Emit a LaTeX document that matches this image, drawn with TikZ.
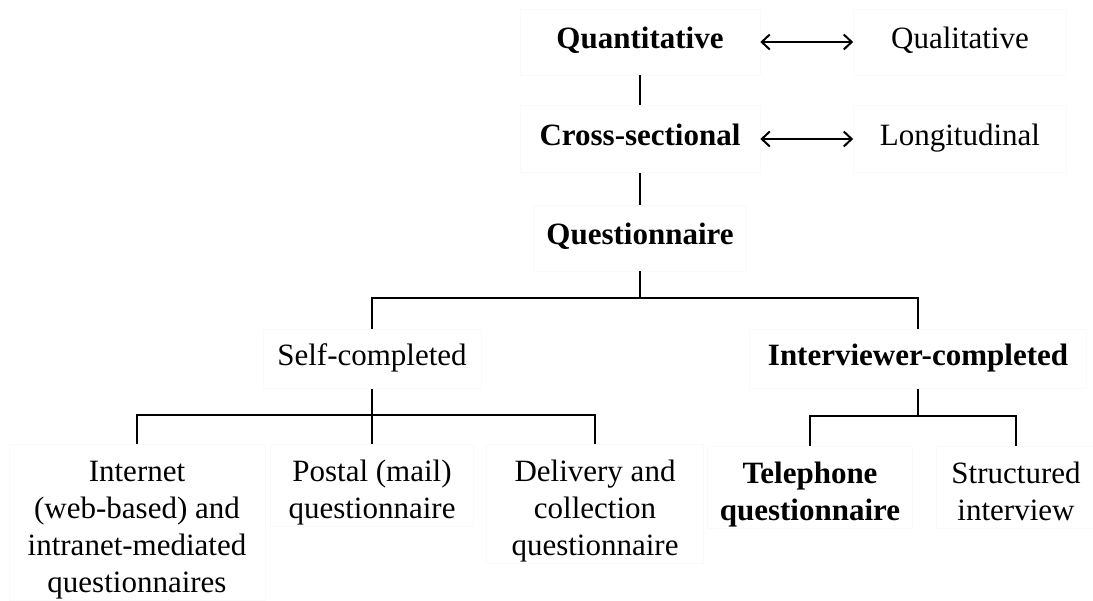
\documentclass[tikz,border=0pt]{standalone}
\usepackage{fontspec}
\setmainfont{Liberation Serif}
\usetikzlibrary{arrows.meta}

\begin{document}
\begin{tikzpicture}[x=1pt,y=1pt,line width=1.5pt,node distance=320pt,
  >={Straight Barb[length=8pt,width=15pt]}]
\tikzstyle{box}=[draw=black!2,line width=0.6pt,align=center,inner sep=2pt,
  text height=21pt,text depth=7pt,font=\fontsize{31}{37}\selectfont]
\tikzstyle{leaf}=[box,anchor=north,inner ysep=8pt,text depth=0pt]
\tikzstyle{key}=[font=\fontsize{31}{37}\selectfont\bfseries]
\useasboundingbox (0,0) rectangle (1093,-601);
% top two rows
\node[box,key,minimum width=240pt,minimum height=66pt] (Quan) at (640,-42) {Quantitative};
\node[box,minimum width=213pt,minimum height=66pt][right of=Quan] (Qual) {Qualitative};
\node[box,key,minimum width=240pt,minimum height=67pt][below of=Quan,node distance=97pt] (Cross) {Cross-sectional};
\node[box,minimum width=213pt,minimum height=67pt][right of=Cross] (Long) {Longitudinal};
\node[box,key,minimum width=213pt,minimum height=66pt][below of=Cross,node distance=99pt] (Quest) {Questionnaire};
% second level
\node[box,minimum width=218pt,minimum height=59pt] (Self) at (372,-359) {Self-completed};
\node[box,key,minimum width=337pt,minimum height=59pt] (Inter) at (918,-359) {Interviewer-completed};
% leaves
\node[leaf,minimum width=256pt,text height=140pt] (Web) at (137,-444) {Internet\\(web-based) and\\intranet-mediated\\questionnaires};
\node[leaf,minimum width=203pt,text height=66pt] (Post) at (372,-444) {Postal (mail)\\questionnaire};
\node[leaf,minimum width=217pt,text height=103pt] (Deliv) at (595,-444) {Delivery and\\collection\\questionnaire};
\node[leaf,key,minimum width=205pt,text height=66pt] (Tel) at (810,-446) {Telephone\\questionnaire};
\node[leaf,minimum width=160pt,text height=66pt] (Struct) at (1016,-446) {Structured\\interview};
\coordinate (ForkQ) at (640,-298);
\coordinate (ForkS) at (372,-415);
\coordinate (ForkI) at (918,-416);

\draw[<->,line width=2pt] (Quan) -- (Qual);
\draw[<->,line width=2pt] (Cross) -- (Long);
\draw (Quan) -- (Cross);
\draw (Cross) -- (Quest);
\draw (Quest) -- (ForkQ) -| (Self.north);
\draw (ForkQ) -| (Inter.north);
\draw (Self) -- (ForkS) -| (Web.north);
\draw (ForkS) -- (Post.north);
\draw (ForkS) -| (Deliv.north);
\draw (Inter) -- (ForkI) -| (Tel.north);
\draw (ForkI) -| (Struct.north);
\end{tikzpicture}
\end{document}
